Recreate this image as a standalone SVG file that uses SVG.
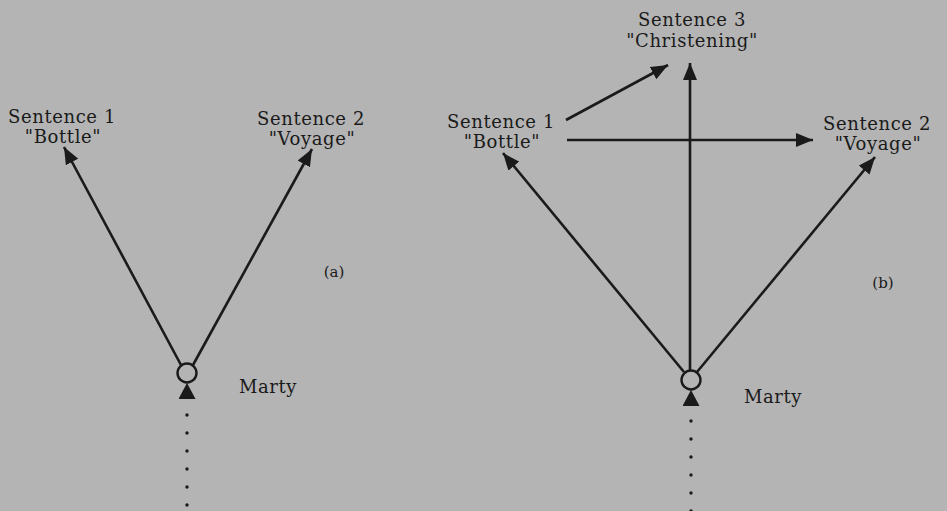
<svg xmlns="http://www.w3.org/2000/svg" width="947" height="511" viewBox="0 0 947 511">
<defs>
<style>
.t{font-family:"DejaVu Serif","Liberation Serif",serif;font-size:18px;fill:#1a1a1a;text-anchor:middle;letter-spacing:0.6px}
.s{font-family:"DejaVu Serif","Liberation Serif",serif;font-size:15px;fill:#1a1a1a;text-anchor:middle}
.a{stroke:#1a1a1a;stroke-width:2.6;fill:none;marker-end:url(#ah)}
.d{stroke:#1a1a1a;stroke-width:3.4;stroke-linecap:round;stroke-dasharray:0 18;fill:none;marker-end:url(#tri)}
.n{fill:#b4b4b4;stroke:#1a1a1a;stroke-width:2.4}
</style>
<marker id="ah" markerUnits="userSpaceOnUse" markerWidth="18" markerHeight="14" refX="17" refY="7" orient="auto">
<path d="M0,0 L17,7 L0,14 z" fill="#1a1a1a"/>
</marker>
<marker id="tri" markerUnits="userSpaceOnUse" markerWidth="17" markerHeight="18" refX="16" refY="8.5" orient="auto">
<path d="M0,0 L16,8.5 L0,17 z" fill="#1a1a1a"/>
</marker>
</defs>
<rect width="947" height="511" fill="#b4b4b4"/>
<g id="connectors">
<line class="a" x1="181" y1="365" x2="64" y2="147"/>
<line class="a" x1="193" y1="365" x2="312" y2="149"/>
<line class="d" x1="187" y1="505" x2="187" y2="383"/>
<line class="a" x1="684" y1="372" x2="503" y2="153"/>
<line class="a" x1="697" y1="372" x2="875" y2="157"/>
<line class="a" x1="690" y1="370" x2="690" y2="63"/>
<line class="a" x1="566" y1="120" x2="668" y2="65"/>
<line class="a" x1="567" y1="140" x2="813" y2="140"/>
<line class="d" x1="691" y1="511" x2="691" y2="390"/>
</g>
<g id="a-marty"><circle class="n" cx="187" cy="373" r="9.5"/><text class="t" x="268" y="393">Marty</text></g>
<g id="a-s1"><text class="t" x="62" y="123">Sentence 1</text><text class="t" x="63" y="143">"Bottle"</text></g>
<g id="a-s2"><text class="t" x="311" y="125">Sentence 2</text><text class="t" x="312" y="145">"Voyage"</text></g>
<g id="a-label"><text class="s" x="334" y="277">(a)</text></g>
<g id="b-marty"><circle class="n" cx="691" cy="380" r="9.5"/><text class="t" x="773" y="403">Marty</text></g>
<g id="b-s1"><text class="t" x="501" y="128">Sentence 1</text><text class="t" x="502" y="148">"Bottle"</text></g>
<g id="b-s2"><text class="t" x="877" y="130">Sentence 2</text><text class="t" x="878" y="150">"Voyage"</text></g>
<g id="b-s3"><text class="t" x="692" y="26">Sentence 3</text><text class="t" x="692" y="47">"Christening"</text></g>
<g id="b-label"><text class="s" x="883" y="288">(b)</text></g>
</svg>
